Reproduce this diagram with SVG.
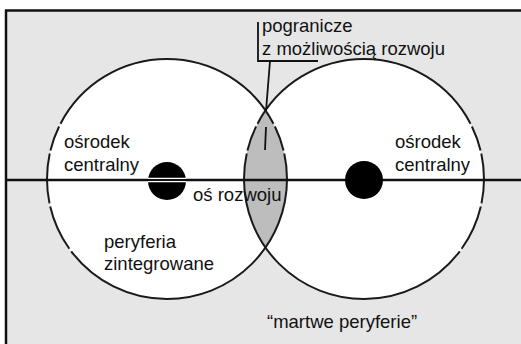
<svg xmlns="http://www.w3.org/2000/svg" width="521" height="344" viewBox="0 0 521 344">
<style>
text{font-family:"Liberation Sans",Arial,sans-serif;font-size:18.5px;fill:#111}
.ring{fill:none;stroke:#1a1a1a;stroke-width:2}
.ln{stroke:#111;fill:none}
</style>
<rect x="0" y="0" width="521" height="344" fill="#ffffff"/>
<rect x="6" y="11" width="520" height="340" fill="#e6e6e6"/>
<g id="frame">
<line class="ln" x1="5" y1="10.5" x2="521" y2="10.5" stroke-width="2.5"/>
<line class="ln" x1="6" y1="10" x2="6" y2="344" stroke-width="2.5"/>
</g>
<g id="left-circle">
<circle cx="167" cy="179" r="120" fill="#ffffff"/>
</g>
<g id="right-circle">
<circle cx="364" cy="179" r="120" fill="#ffffff"/>
</g>
<g id="border-zone">
<path d="M265.5 110.5 A120 120 0 0 1 265.5 247.5 A120 120 0 0 1 265.5 110.5 Z" fill="#bdbdbd"/>
</g>
<g id="outlines">
<circle class="ring" cx="167" cy="179" r="120" pathLength="360" stroke-dasharray="142.95 1.5 22.3 1.5 24 1.5 12.2 1.5 125.1 1.5 12.2 1.5 12.25 0"/>
<circle class="ring" cx="364" cy="179" r="120" pathLength="360" stroke-dasharray="11.75 1.5 22.3 1.5 155.2 1.5 12.2 1.5 125.1 1.5 12.2 1.5 12.25 0"/>
</g>
<g id="connectors">
<line x1="146" y1="180" x2="188" y2="180" stroke="#ffffff" stroke-width="5"/>
<line class="ln" x1="6" y1="180" x2="521" y2="180" stroke-width="2.5"/>
<path class="ln" d="M258 22 V61 H318 M270 61 L266 111 M266 127 L265 150" stroke-width="1.8"/>
</g>
<g id="left-center">
<circle cx="167" cy="181" r="19" fill="#000"/>
<line x1="148" y1="180" x2="186" y2="180" stroke="#ffffff" stroke-width="4.5"/>
<line x1="148" y1="180" x2="186" y2="180" stroke="#111" stroke-width="2"/>
</g>
<g id="right-center">
<circle cx="364" cy="180" r="19" fill="#000"/>
</g>
<g id="labels">
<text x="262" y="32">pogranicze</text>
<text x="262" y="55">z możliwością rozwoju</text>
<text x="64" y="148">ośrodek</text>
<text x="64" y="171">centralny</text>
<text x="395" y="148">ośrodek</text>
<text x="395" y="171">centralny</text>
<text x="193" y="201">oś rozwoju</text>
<text x="104" y="248">peryferia</text>
<text x="104" y="270">zintegrowane</text>
<text x="267" y="328">“martwe peryferie”</text>
</g>
</svg>
